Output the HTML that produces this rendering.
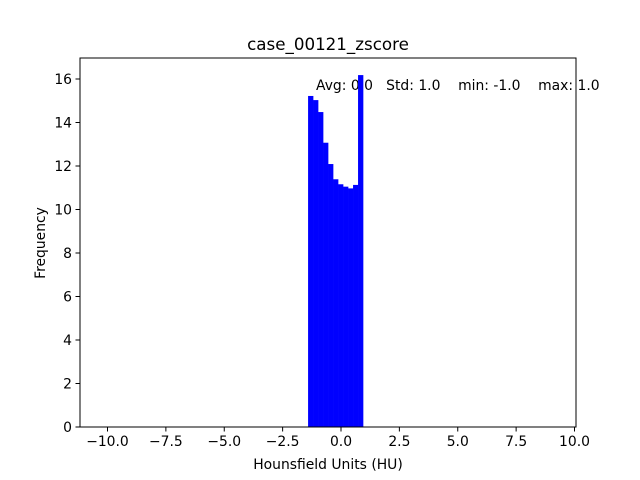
<!DOCTYPE html>
<html><head><meta charset="utf-8"><style>body{margin:0;background:#fff}svg{display:block;font-family:"DejaVu Sans","Liberation Sans",sans-serif}text{white-space:pre}</style></head>
<body>
<svg id="c" width="640" height="480">
<rect width="640" height="480" fill="#fff"/>
<text x="328" y="50" font-size="16.7" text-anchor="middle">case_00121_zscore</text>
<text x="316" y="90" font-size="13.9" xml:space="preserve">Avg: 0.0   Std: 1.0    min: -1.0    max: 1.0</text>
<g id="bars"></g>
<rect x="80" y="58" width="496" height="369" fill="none" stroke="#000" stroke-width="1"/>
<g id="ticks" font-size="13.9"></g>
<text x="328" y="469" font-size="13.9" text-anchor="middle">Hounsfield Units (HU)</text>
<text transform="translate(45,243) rotate(-90)" font-size="13.9" text-anchor="middle">Frequency</text>
</svg>
<script>
const binStart = -1.41;
const binWidth = 0.214;
const counts = [15.22, 15.03, 14.48, 13.07, 12.09, 11.39, 11.16, 11.05, 10.97, 11.13, 16.18];
const xTicks = [-10, -7.5, -5, -2.5, 0, 2.5, 5, 7.5, 10];
const xTickLabels = ["−10.0","−7.5","−5.0","−2.5","0.0","2.5","5.0","7.5","10.0"];
const yTicks = [0, 2, 4, 6, 8, 10, 12, 14, 16];
const NS = "http://www.w3.org/2000/svg";
const X = v => 341 + v * 23.35;
const Y = v => 427 - v * 21.75;
const bars = document.getElementById('bars');
counts.forEach((c, i) => {
  const r = document.createElementNS(NS, 'rect');
  const x0 = X(binStart + i * binWidth), x1 = X(binStart + (i + 1) * binWidth);
  r.setAttribute('x', x0); r.setAttribute('width', x1 - x0 + 0.3);
  r.setAttribute('y', Y(c)); r.setAttribute('height', Y(0) - Y(c));
  r.setAttribute('fill', '#0000ff');
  
  
  bars.appendChild(r);
});
const tg = document.getElementById('ticks');
xTicks.forEach((t, i) => {
  const l = document.createElementNS(NS, 'line');
  l.setAttribute('x1', X(t)); l.setAttribute('x2', X(t)); l.setAttribute('y1', 427); l.setAttribute('y2', 431.5); l.setAttribute('stroke', '#000');
  tg.appendChild(l);
  const tx = document.createElementNS(NS, 'text');
  tx.setAttribute('x', X(t)); tx.setAttribute('y', 446); tx.setAttribute('text-anchor', 'middle');
  tx.textContent = xTickLabels[i];
  
  
  tg.appendChild(tx);
});
yTicks.forEach(t => {
  const l = document.createElementNS(NS, 'line');
  l.setAttribute('x1', 75.5); l.setAttribute('x2', 80); l.setAttribute('y1', Y(t)); l.setAttribute('y2', Y(t)); l.setAttribute('stroke', '#000');
  tg.appendChild(l);
  const tx = document.createElementNS(NS, 'text');
  tx.setAttribute('x', 72); tx.setAttribute('y', Y(t) + 5); tx.setAttribute('text-anchor', 'end');
  tx.textContent = t;
  
  
  tg.appendChild(tx);
});
</script>
</body></html>
